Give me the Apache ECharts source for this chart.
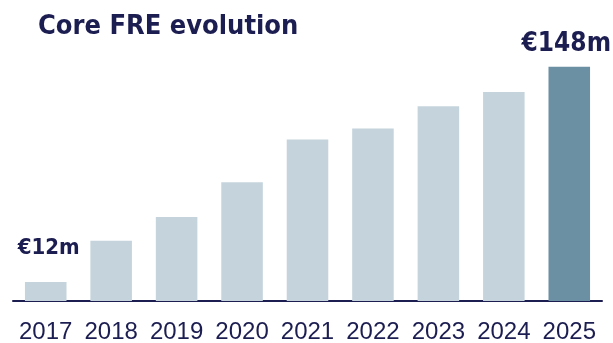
<!DOCTYPE html>
<html>
<head>
<meta charset="utf-8">
<script src="https://cdn.jsdelivr.net/npm/echarts@6/dist/echarts.min.js"></script>
<style>
  html, body { margin: 0; padding: 0; background: #fff; }
  #chart { width: 613px; height: 343px; }
</style>
</head>
<body>
<div id="chart"></div>
<script>
const years = ["2017", "2018", "2019", "2020", "2021", "2022", "2023", "2024", "2025"];
const coreFre = [12, 38, 53, 75, 102, 109, 123, 132, 148];
// only the first and last bar carry a label
const labelText = { 0: "€12m", 8: "€148m" };

const navy = "#1c1d50";
const lightBar = "#c5d4dc";
const darkBar = "#6b90a4";
const condensed = "'DejaVu Sans Condensed', 'Liberation Sans', sans-serif";

const chart = echarts.init(document.getElementById("chart"));

chart.setOption({
  animation: false,
  title: {
    text: "Core FRE evolution",
    left: 33,
    top: 8,
    textStyle: {
      color: navy,
      fontFamily: condensed,
      fontWeight: "bold",
      fontSize: 27,
    },
  },
  grid: { left: 13, right: 11, top: 63.5, bottom: 42, outerBoundsMode: "none" },
  xAxis: {
    type: "category",
    data: years,
    axisLine: { lineStyle: { color: navy, width: 2 } },
    axisTick: { show: false },
    axisLabel: {
      interval: 0,
      color: navy,
      fontFamily: "Liberation Sans",
      fontSize: 24,
      margin: 19,
    },
  },
  yAxis: {
    type: "value",
    min: 0,
    max: 150,
    show: false,
    splitLine: { show: false },
  },
  series: [
    {
      type: "bar",
      barCategoryGap: "36.5%",
      data: coreFre.map((v, i) => ({
        value: v,
        itemStyle: { color: i === years.length - 1 ? darkBar : lightBar },
        label: labelText[i]
          ? {
              show: true,
              position: "top",
              distance: i === 0 ? 23 : 9,
              formatter: labelText[i],
              color: navy,
              fontFamily: condensed,
              fontWeight: "bold",
              fontSize: i === 0 ? 22 : 26,
              offset: i === 0 ? [3, 0] : [-3, 0],
            }
          : { show: false },
      })),
    },
  ],
});
</script>
</body>
</html>
